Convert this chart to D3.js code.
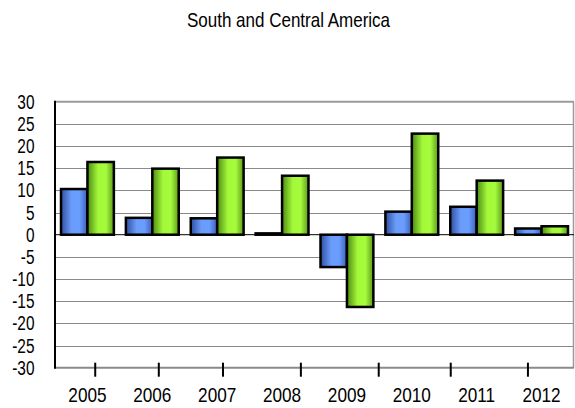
<!DOCTYPE html>
<html>
<head>
<meta charset="utf-8">
<script src="https://cdn.jsdelivr.net/npm/d3@7"></script>
<style>
  html, body { margin: 0; padding: 0; background: #fff; }
  svg text { font-family: "Liberation Sans", Arial, sans-serif; fill: #000; }
</style>
</head>
<body>
<svg id="chart" width="575" height="408"></svg>
<script>
const title = "South and Central America";
const years = ["2005", "2006", "2007", "2008", "2009", "2010", "2011", "2012"];
const seriesA = [10.3, 3.8, 3.7, 0.3, -7.3, 5.2, 6.3, 1.4];
const seriesB = [16.4, 14.9, 17.4, 13.3, -16.3, 22.8, 12.2, 1.9];
const yTicks = [30, 25, 20, 15, 10, 5, 0, -5, -10, -15, -20, -25, -30];
// tick-mark positions on the category axis, in category units
const xTickAt = [0.62, 1.6, 2.59, 3.79, 4.99, 6.1, 7.29];

const W = 575, H = 408;
const m = { left: 55, right: 1, top: 101.7, bottom: 40.3 };
const svg = d3.select("#chart");

const x = d3.scaleBand().domain(years).range([m.left, W - m.right]).paddingInner(0.185).paddingOuter(0.0925);
const xLin = d3.scaleLinear().domain([0, years.length]).range([m.left, W - m.right]);
const xs = d3.scaleBand().domain(["a", "b"]).range([0, x.bandwidth()]);
const y = d3.scaleLinear().domain([-30, 30]).range([H - m.bottom, m.top]);

const defs = svg.append("defs");
function grad(id, stops) {
  const g = defs.append("linearGradient").attr("id", id).attr("x1", "0%").attr("x2", "100%").attr("y1", "0%").attr("y2", "0%");
  stops.forEach(s => g.append("stop").attr("offset", s[0]).attr("stop-color", s[1]));
}
grad("gBlue", [["0%", "#2f4f9e"], ["40%", "#6a9cfb"], ["70%", "#6b9dff"], ["100%", "#3a5fb5"]]);
grad("gGreen", [["0%", "#4d8a12"], ["40%", "#a3f83a"], ["70%", "#a6fb3c"], ["100%", "#5a9a18"]]);

// title
svg.append("text").attr("transform", `translate(${W / 2 + 1},27) scale(0.81,1)`).attr("text-anchor", "middle")
  .style("font-size", "21px").text(title);

// gridlines
svg.append("g").selectAll("line").data(yTicks.filter(d => d !== 0 && d !== -30 && d !== 30)).join("line")
  .attr("x1", m.left).attr("x2", W - m.right)
  .attr("y1", d => Math.round(y(d)) + 0.5).attr("y2", d => Math.round(y(d)) + 0.5)
  .attr("stroke", "#8a8a8a").attr("stroke-width", 1);

// plot border top/right/bottom
svg.append("line").attr("x1", m.left).attr("x2", W - m.right).attr("y1", y(30)).attr("y2", y(30))
  .attr("stroke", "#9a9a9a").attr("stroke-width", 2);
svg.append("line").attr("x1", W - m.right - 0.5).attr("x2", W - m.right - 0.5).attr("y1", y(30)).attr("y2", y(-30))
  .attr("stroke", "#9a9a9a").attr("stroke-width", 1.5);
svg.append("line").attr("x1", m.left).attr("x2", W - m.right).attr("y1", y(-30)).attr("y2", y(-30))
  .attr("stroke", "#8a8a8a").attr("stroke-width", 2);

// bars
const groups = svg.append("g").selectAll("g").data(years).join("g")
  .attr("transform", d => `translate(${x(d)},0)`);
groups.append("rect")
  .attr("x", xs("a")).attr("width", xs.bandwidth())
  .attr("y", (d, i) => y(Math.max(0, seriesA[i])))
  .attr("height", (d, i) => Math.abs(y(seriesA[i]) - y(0)))
  .attr("fill", "url(#gBlue)").attr("stroke", "#000").attr("stroke-width", 2.5);
groups.append("rect")
  .attr("x", xs("b")).attr("width", xs.bandwidth())
  .attr("y", (d, i) => y(Math.max(0, seriesB[i])))
  .attr("height", (d, i) => Math.abs(y(seriesB[i]) - y(0)))
  .attr("fill", "url(#gGreen)").attr("stroke", "#000").attr("stroke-width", 2.5);

// zero line
svg.append("line").attr("x1", m.left).attr("x2", W - m.right).attr("y1", y(0)).attr("y2", y(0))
  .attr("stroke", "#000").attr("stroke-width", 1);

// left axis
svg.append("line").attr("x1", m.left).attr("x2", m.left).attr("y1", y(30) - 1).attr("y2", y(-30) + 1)
  .attr("stroke", "#000").attr("stroke-width", 2);

// y labels
svg.append("g").selectAll("text").data(yTicks).join("text")
  .attr("transform", d => `translate(34.5,${y(d)}) scale(0.79,1)`)
  .attr("dy", "0.36em").attr("text-anchor", "end")
  .style("font-size", "19.5px").text(d => d);

// x tick marks
svg.append("g").selectAll("line").data(xTickAt).join("line")
  .attr("x1", d => xLin(d)).attr("x2", d => xLin(d))
  .attr("y1", y(-30) - 5).attr("y2", y(-30) + 9)
  .attr("stroke", "#000").attr("stroke-width", 2);

// x labels
svg.append("g").selectAll("text").data(years).join("text")
  .attr("transform", d => `translate(${x(d) + x.bandwidth() / 2},401.5) scale(0.86,1)`)
  .attr("text-anchor", "middle").style("font-size", "20px").text(d => d);
</script>
</body>
</html>
